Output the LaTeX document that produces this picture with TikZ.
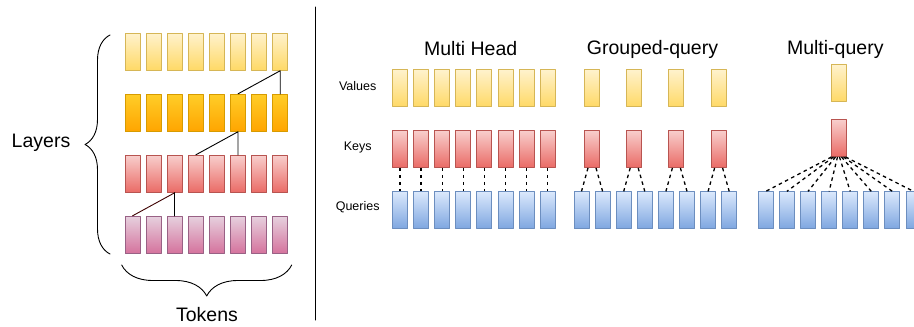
\documentclass[tikz,border=0pt]{standalone}
\usepackage{fontspec}
\setmainfont{Liberation Sans}
\usetikzlibrary{decorations.pathreplacing}
\definecolor{ytop}{HTML}{FFF2CC}\definecolor{ybot}{HTML}{FFD966}\definecolor{yline}{HTML}{D6B656}
\definecolor{otop}{HTML}{FFCD28}\definecolor{obot}{HTML}{FFA500}\definecolor{oline}{HTML}{D79B00}
\definecolor{rtop}{HTML}{F8CECC}\definecolor{rbot}{HTML}{EA6B66}\definecolor{rline}{HTML}{B85450}
\definecolor{ptop}{HTML}{E6D0DE}\definecolor{pbot}{HTML}{D5739D}\definecolor{pline}{HTML}{996185}
\definecolor{btop}{HTML}{DAE8FC}\definecolor{bbot}{HTML}{7EA6E0}\definecolor{bline}{HTML}{6C8EBF}
\begin{document}
\begin{tikzpicture}[x=1pt, y=-1pt, line cap=round, line join=round]
	\tikzset{cell/.style={draw, line width=0.9pt, minimum width=15pt, minimum height=37pt, inner sep=0pt},
		yel/.style={cell, top color=ytop, bottom color=ybot, draw=yline},
		ora/.style={cell, top color=otop, bottom color=obot, draw=oline},
		red/.style={cell, top color=rtop, bottom color=rbot, draw=rline},
		pur/.style={cell, top color=ptop, bottom color=pbot, draw=pline},
		blu/.style={cell, top color=btop, bottom color=bbot, draw=bline},
		big/.style={font=\fontsize{19.5}{22}\selectfont},
		small/.style={font=\fontsize{12.5}{15}\selectfont},
		link/.style={line width=1.3pt, line cap=butt, dash pattern=on 3.5pt off 3.5pt}}
	\useasboundingbox (0,0) rectangle (914,327);
	% layers x tokens
	\foreach \c [count=\row] in {yel,ora,red,pur}
		\foreach \i in {1,...,8}
			\node[\c] (L\row-\i) at ({132.5+21.1*(\i-1)}, {51.8+61*(\row-1)}) {};
	\draw[line width=0.9pt] (L1-8.south) -- (L2-6.north) (L1-8.south) -- (L2-8.north);
	\draw[line width=0.9pt] (L2-6.south) -- (L3-4.north) (L2-6.south) -- (L3-6.north);
	\draw[line width=0.9pt, black!70!red!80!black] (L3-3.south) -- (L4-1.north);
	\draw[line width=0.9pt] (L3-3.south) -- (L4-3.north);
	\coordinate (lb1) at (110,254); \coordinate (lb2) at (110,35);
	\draw[line width=0.9pt, decorate, decoration={brace, amplitude=25pt}] (lb1) -- (lb2);
	\node[big] (layers) at (41,143) {Layers};
	\coordinate (tb1) at (291.7,265); \coordinate (tb2) at (121.7,265);
	\draw[line width=0.9pt, decorate, decoration={brace, amplitude=31pt}] (tb1) -- (tb2);
	\node[big] (tokens) at (207,315) {Tokens};
	% separator
	\coordinate (s1) at (315.7,7); \coordinate (s2) at (315.7,320);
	\draw[line width=1pt] (s1) -- (s2);
	% titles and row labels
	\node[big] (mh) at (470.7,49) {Multi Head};
	\node[big] (gq) at (652.5,49) {Grouped-query};
	\node[big] (mq) at (835.3,49) {Multi-query};
	\node[small] (values) at (357.7,86) {Values};
	\node[small] (keys) at (357.7,147) {Keys};
	\node[small] (queries) at (357.7,207) {Queries};
	% multi head
	\foreach \i in {1,...,8}{
		\node[yel] (mv\i) at ({400+21.1*(\i-1)},88.3) {};
		\node[red] (mk\i) at ({400+21.1*(\i-1)},149) {};
		\node[blu] (mq\i) at ({400+21.1*(\i-1)},210.3) {};
		\draw[link] (mk\i.south) -- (mq\i.north);
	}
	% grouped-query
	\foreach \i in {1,...,8}
		\node[blu] (gq\i) at ({581.5+21.1*(\i-1)},210.3) {};
	\foreach \j in {1,...,4}{
		\node[yel] (gv\j) at ({592+42.2*(\j-1)},88.3) {};
		\node[red] (gk\j) at ({592+42.2*(\j-1)},149) {};
		\pgfmathtruncatemacro\a{2*\j-1}
		\pgfmathtruncatemacro\b{2*\j}
		\draw[link] ([xshift=-4pt]gk\j.south) -- (gq\a.north);
		\draw[link] ([xshift=4pt]gk\j.south) -- (gq\b.north);
	}
	% multi-query
	\node[yel] (xv) at (838.5,83.3) {};
	\node[red] (xk) at (838.5,138) {};
	\foreach \i in {1,...,8}{
		\node[blu] (xq\i) at ({765.8+21.1*(\i-1)},210.3) {};
		\draw[link] ([xshift={(\i-4.5)*2}]xk.south) -- (xq\i.north);
	}
\end{tikzpicture}
\end{document}
